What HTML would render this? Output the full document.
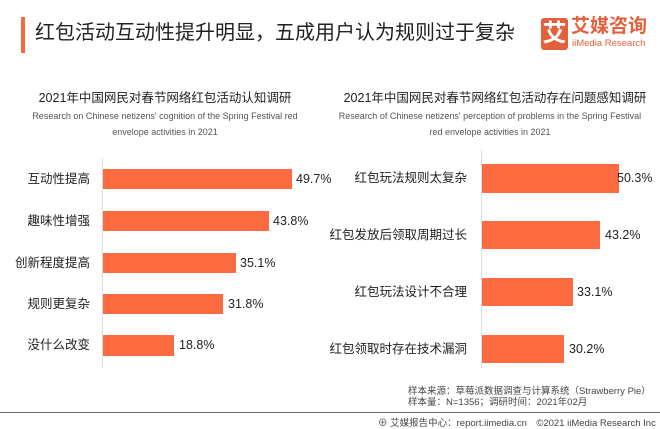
<!DOCTYPE html><html><head><meta charset="utf-8"><style>
body{margin:0;width:660px;height:429px;background:#fff;position:relative;overflow:hidden;font-family:"Liberation Sans","Noto Sans CJK SC",sans-serif;color:#222}
.a{position:absolute;white-space:nowrap}
.bar{position:absolute;background:#fc6b3f}
.lab{position:absolute;font-size:12.5px;line-height:16px;text-align:right;white-space:nowrap}
.v{position:absolute;font-size:12.5px;line-height:16px;white-space:nowrap}
</style></head><body>
<div class="a" style="left:21px;top:17px;width:4px;height:36px;background:#f26a3d"></div>
<div class="a" style="left:35px;top:21px;font-size:20px;line-height:24px;color:#222">红包活动互动性提升明显，五成用户认为规则过于复杂</div>
<div class="a" style="left:541px;top:18px;width:27px;height:32px;background:#e3603c;border-radius:3px;color:#fff;font-size:24px;text-align:center;line-height:32px;font-weight:bold">艾</div>
<div class="a" style="left:571px;top:16px;font-size:19px;line-height:22px;color:#e3603c;font-weight:bold">艾媒咨询</div>
<div class="a" style="left:572px;top:38px;font-size:9.5px;line-height:11px;color:#e3603c">iiMedia Research</div>

<div class="a" style="left:0;width:330px;text-align:center;top:87px;font-size:12.5px">2021年中国网民对春节网络红包活动认知调研</div>
<div class="a" style="left:0;width:330px;text-align:center;top:108px;font-size:9px;color:#555;line-height:16px;white-space:normal">Research on Chinese netizens' cognition of the Spring Festival red<br>envelope activities in 2021</div>
<div class="a" style="left:330px;width:330px;text-align:center;top:87px;font-size:12.5px">2021年中国网民对春节网络红包活动存在问题感知调研</div>
<div class="a" style="left:325px;width:330px;text-align:center;top:108px;font-size:9px;color:#555;line-height:16px;white-space:normal">Research of Chinese netizens' perception of problems in the Spring Festival<br>red envelope activities in 2021</div>

<div class="a" style="left:102px;top:158px;width:1px;height:210px;background:#ddd"></div>
<div class="bar" style="left:103px;top:169px;width:189px;height:20px"></div><div class="lab" style="right:570px;top:171px">互动性提高</div><div class="v" style="left:296px;top:171px">49.7%</div>
<div class="bar" style="left:103px;top:211px;width:166px;height:20px"></div><div class="lab" style="right:570px;top:213px">趣味性增强</div><div class="v" style="left:273px;top:213px">43.8%</div>
<div class="bar" style="left:103px;top:253px;width:133px;height:20px"></div><div class="lab" style="right:570px;top:255px">创新程度提高</div><div class="v" style="left:240px;top:255px">35.1%</div>
<div class="bar" style="left:103px;top:294px;width:120px;height:20px"></div><div class="lab" style="right:570px;top:296px">规则更复杂</div><div class="v" style="left:228px;top:296px">31.8%</div>
<div class="bar" style="left:103px;top:335px;width:71px;height:21px"></div><div class="lab" style="right:570px;top:337px">没什么改变</div><div class="v" style="left:179px;top:337px">18.8%</div>

<div class="a" style="left:481px;top:150px;width:1px;height:218px;background:#ddd"></div>
<div class="bar" style="left:482px;top:164px;width:137px;height:29px"></div><div class="lab" style="right:193px;top:170px">红包玩法规则太复杂</div><div class="v" style="left:617px;top:170px">50.3%</div>
<div class="bar" style="left:482px;top:221px;width:118px;height:28px"></div><div class="lab" style="right:193px;top:227px">红包发放后领取周期过长</div><div class="v" style="left:605px;top:227px">43.2%</div>
<div class="bar" style="left:482px;top:278px;width:91px;height:28px"></div><div class="lab" style="right:193px;top:284px">红包玩法设计不合理</div><div class="v" style="left:577px;top:284px">33.1%</div>
<div class="bar" style="left:482px;top:335px;width:82px;height:28px"></div><div class="lab" style="right:193px;top:341px">红包领取时存在技术漏洞</div><div class="v" style="left:569px;top:341px">30.2%</div>

<div class="a" style="left:408px;top:386px;font-size:9.5px;color:#444;line-height:11px">样本来源：草莓派数据调查与计算系统（Strawberry Pie）<br>样本量：N=1356；调研时间：2021年02月</div>
<div class="a" style="left:0;top:412px;width:660px;height:1px;background:#666"></div>
<div class="a" style="left:378px;top:415px;font-size:9.5px;color:#444">⊕ 艾媒报告中心：report.iimedia.cn　©2021  iiMedia Research  Inc</div>
</body></html>
